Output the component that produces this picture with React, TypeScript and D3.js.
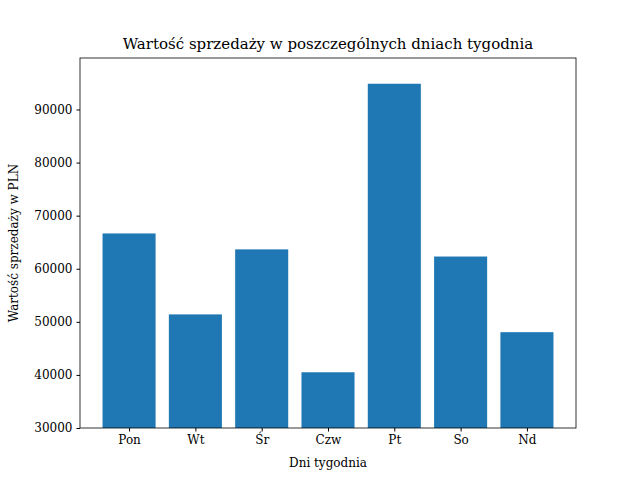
import { useEffect, useRef } from "react";
import * as d3 from "d3";

const DAYS = ["Pon", "Wt", "Śr", "Czw", "Pt", "So", "Nd"];
const SALES = [66650, 51400, 63650, 40500, 94850, 62300, 48050];
const Y_TICKS = [30000, 40000, 50000, 60000, 70000, 80000, 90000];

const W = 640;
const H = 480;
const MARGIN = { top: 58, right: 64, bottom: 52, left: 80 };
const FONT = "DejaVu Serif";

export default function App() {
  const svgRef = useRef<SVGSVGElement>(null);

  useEffect(() => {
    const svg = d3.select(svgRef.current!);
    svg.selectAll("*").remove();
    const iw = W - MARGIN.left - MARGIN.right;
    const ih = H - MARGIN.top - MARGIN.bottom;

    const x = d3.scaleLinear().domain([-0.74, DAYS.length - 1 + 0.74]).range([0, iw]);
    const y = d3.scaleLinear().domain([30000, 99700]).range([ih, 0]);
    const bw = x(0.8) - x(0);

    const g = svg.append("g").attr("transform", `translate(${MARGIN.left},${MARGIN.top})`);

    g.selectAll("rect.bar")
      .data(SALES)
      .join("rect")
      .attr("class", "bar")
      .attr("x", (_, i) => x(i) - bw / 2)
      .attr("y", (d) => y(d))
      .attr("width", bw)
      .attr("height", (d) => ih - y(d))
      .attr("fill", "#1f77b4");

    const xAxis = g
      .append("g")
      .attr("transform", `translate(0,${ih})`)
      .call(
        d3.axisBottom(x)
          .tickValues(d3.range(DAYS.length))
          .tickFormat((d) => DAYS[d as number])
          .tickSize(3.5)
          .tickPadding(4)
      );
    const yAxis = g.append("g").call(
      d3.axisLeft(y).tickValues(Y_TICKS).tickFormat(d3.format("d")).tickSize(3.5).tickPadding(4)
    );
    for (const a of [xAxis, yAxis]) {
      a.select(".domain").remove();
      a.selectAll("text").attr("font-family", FONT).attr("font-size", 12).attr("fill", "#000");
      a.selectAll("line").attr("stroke", "#000");
    }

    g.append("rect")
      .attr("width", iw)
      .attr("height", ih)
      .attr("fill", "none")
      .attr("stroke", "#000")
      .attr("stroke-width", 0.8);

    svg.append("text")
      .attr("x", MARGIN.left + iw / 2)
      .attr("y", 49)
      .attr("text-anchor", "middle")
      .attr("font-family", FONT)
      .attr("font-size", 15)
      .text("Wartość sprzedaży w poszczególnych dniach tygodnia");

    svg.append("text")
      .attr("x", MARGIN.left + iw / 2)
      .attr("y", 467)
      .attr("text-anchor", "middle")
      .attr("font-family", FONT)
      .attr("font-size", 12)
      .text("Dni tygodnia");

    svg.append("text")
      .attr("transform", `translate(18,${MARGIN.top + ih / 2}) rotate(-90)`)
      .attr("text-anchor", "middle")
      .attr("font-family", FONT)
      .attr("font-size", 12)
      .text("Wartość sprzedaży w PLN");
  }, []);

  return (
    <svg
      ref={svgRef}
      width={W}
      height={H}
      style={{ position: "absolute", left: 0, top: 0, background: "#fff" }}
    />
  );
}
